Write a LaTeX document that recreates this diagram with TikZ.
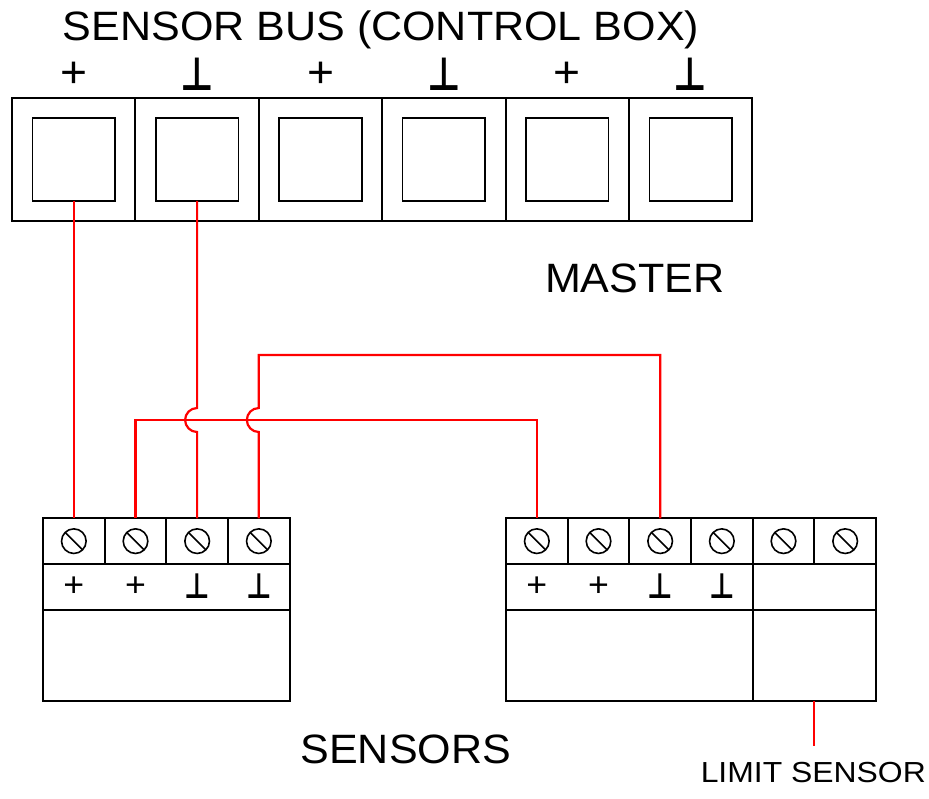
\documentclass[tikz,border=0pt]{standalone}
\usepackage{fontspec}
\setmainfont{Liberation Sans}[FakeStretch=1.05]
\newfontfamily\symfont{DejaVu Sans}
\newfontfamily\smallfont{Liberation Sans}[FakeStretch=1.1]
\usetikzlibrary{calc}
\newcommand{\gnd}{{\symfont\bfseries\scalebox{0.8}[1]{⊥}}}
\begin{document}
\begin{tikzpicture}[x=1pt,y=-1pt,
  topcell/.style={draw=black,line width=2pt,minimum width=123.4pt,minimum height=123.4pt,inner sep=0pt,outer sep=0pt,anchor=north west},
  innersq/.style={draw=black,line width=1.6pt,minimum width=82.7pt,minimum height=82.7pt,inner sep=0pt,outer sep=0pt},
  tcell/.style={draw=black,line width=2pt,minimum width=61.67pt,minimum height=45.7pt,inner sep=0pt,outer sep=0pt,anchor=north west},
  panel/.style={draw=black,line width=2pt,inner sep=0pt,outer sep=0pt,anchor=north west},
  screw/.style={draw=black,line width=1.6pt},
  wire/.style={draw=red,line width=2.2pt},
  biglbl/.style={font=\fontsize{41}{41}\selectfont,inner sep=0pt,anchor=base},
  toplbl/.style={font=\fontsize{44}{44}\selectfont,inner sep=0pt},
  topgnd/.style={font=\fontsize{46}{46}\selectfont,inner sep=0pt},
  smlbl/.style={font=\fontsize{34}{34}\selectfont,inner sep=0pt},
  smgnd/.style={font=\fontsize{35}{35}\selectfont,inner sep=0pt},
]
\useasboundingbox (0,0) rectangle (929,798);

% title
\node[biglbl] (title) at (381,40.7) {SENSOR BUS (CONTROL BOX)};

% top connector cells
\foreach \i in {1,...,6}{
  \node[topcell] (c\i) at ({12+(\i-1)*123.4},97.7) {};
  \node[innersq] (in\i) at (c\i.center) {};
}
\foreach \i in {1,3,5}{
  \node[toplbl] (p\i) at ([yshift=22.5pt]c\i.north) {+};
}
\foreach \i in {2,4,6}{
  \node[topgnd] (p\i) at ([yshift=23.5pt]c\i.north) {\gnd};
}

\node[biglbl] (master) at (634.7,292.7) {MASTER};

% left sensor terminal block
\foreach \i in {1,...,4}{
  \node[tcell] (tl\i) at ({43+(\i-1)*61.67},518.3) {};
}
\node[panel,minimum width=246.7pt,minimum height=46pt] (ll) at (43,564) {};
\node[panel,minimum width=246.7pt,minimum height=91pt] (lb) at (43,610) {};

% right sensor terminal block
\foreach \i in {1,...,6}{
  \node[tcell] (tr\i) at ({506+(\i-1)*61.67},518.3) {};
}
\node[panel,minimum width=246.7pt,minimum height=46pt] (rl1) at (506,564) {};
\node[panel,minimum width=123.3pt,minimum height=46pt] (rl2) at (752.7,564) {};
\node[panel,minimum width=246.7pt,minimum height=91pt] (rb1) at (506,610) {};
\node[panel,minimum width=123.3pt,minimum height=91pt] (rb2) at (752.7,610) {};

% screws
\foreach \n in {tl1,tl2,tl3,tl4,tr1,tr2,tr3,tr4,tr5,tr6}{
  \draw[screw] (\n.center) circle[radius=12.3];
  \draw[screw] (\n.center) ++(225:12.3) -- ++(45:24.6);
}

% terminal labels
\foreach \n in {tl1,tl2,tr1,tr2}{
  \node[smlbl] at ($(\n.center)+(0,46)$) {+};
}
\foreach \n in {tl3,tl4,tr3,tr4}{
  \node[smgnd] at ($(\n.center)+(0,45)$) {\gnd};
}

\node[biglbl] (sensors) at (405.8,763.3) {SENSORS};

% wires
\coordinate (hy) at (0,420);
\coordinate (ty) at (0,355);
\coordinate (ls) at (814,746);

\draw[wire] (in1.south) -- (in1.south |- tl1.north);
\draw[wire] (in2.south) -- ($(in2.south |- hy)+(0,-12)$) arc[start angle=270,end angle=90,radius=12] -- (in2.south |- tl3.north);
\draw[wire] (tl2.north) |- (tr1.north |- hy) -- (tr1.north);
\draw[wire] (tl4.north) -- ($(tl4.north |- hy)+(0,12)$) arc[start angle=90,end angle=270,radius=12] -- (tl4.north |- ty) -| (tr3.north);
\draw[wire] (rb2.south) -- (rb2.south |- ls);

\node[font=\smallfont\fontsize{29}{29}\selectfont,inner sep=0pt,anchor=base] (limit) at (813.3,782.7) {LIMIT SENSOR};
\end{tikzpicture}
\end{document}
